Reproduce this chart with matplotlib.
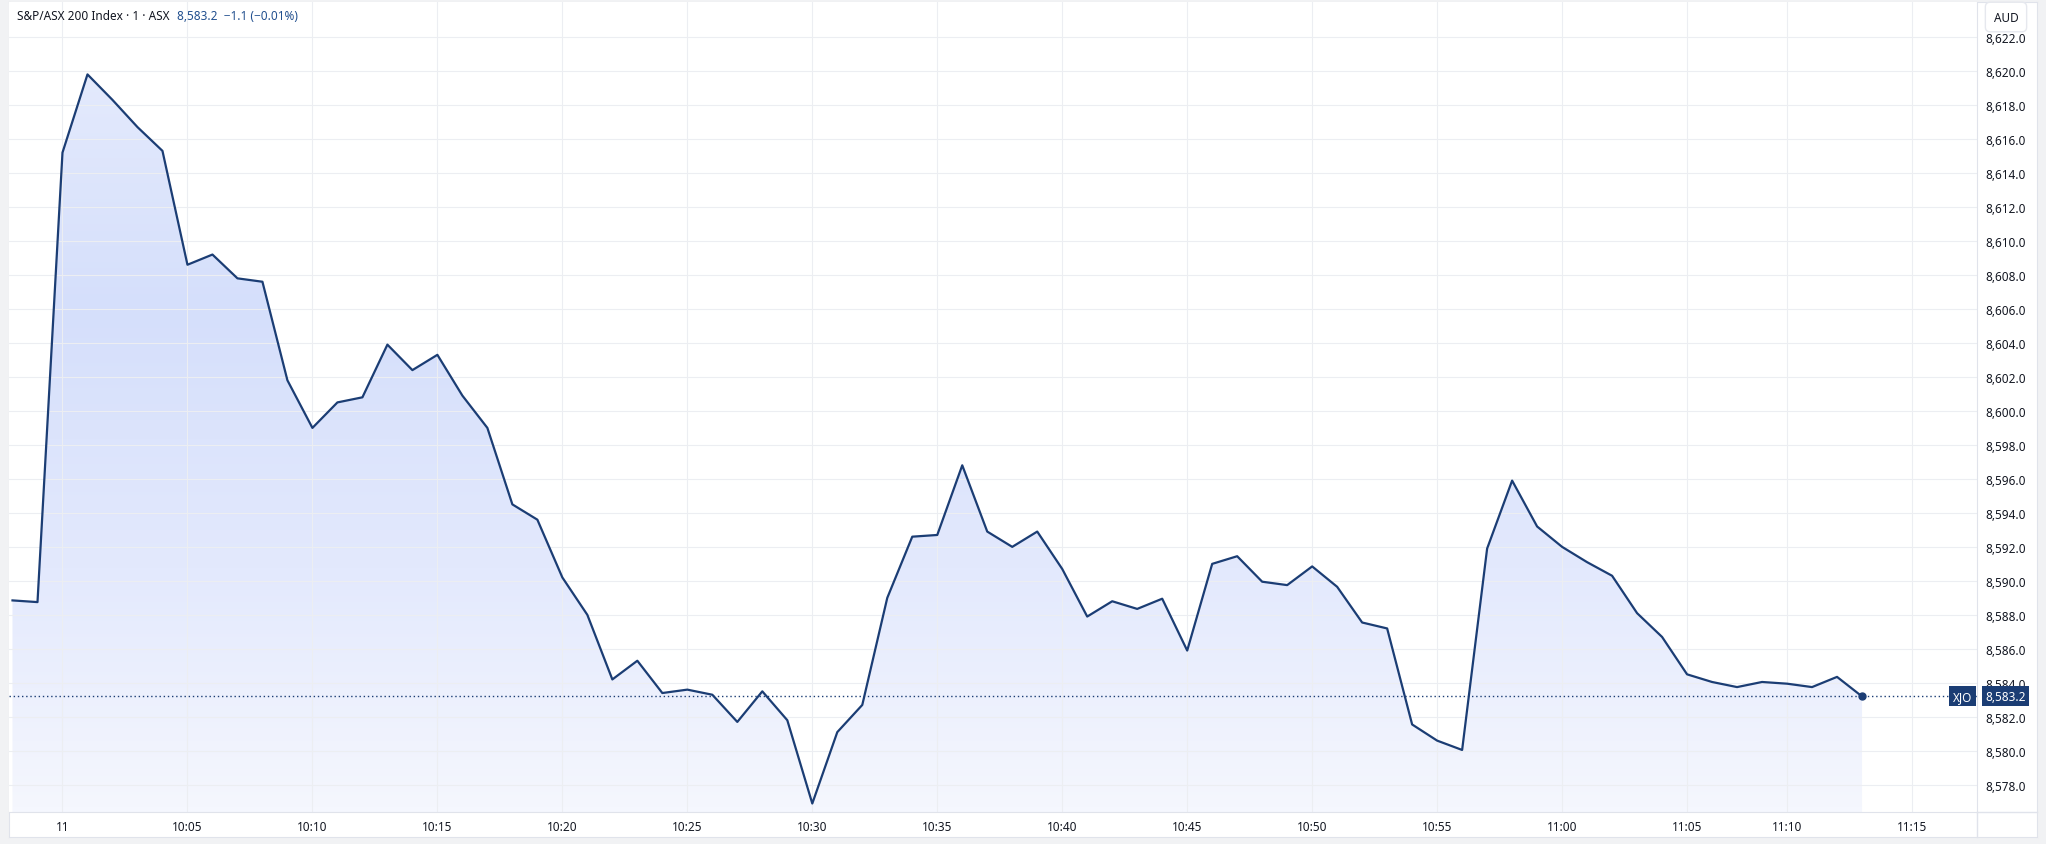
import numpy as np
import matplotlib.pyplot as plt
from matplotlib.colors import LinearSegmentedColormap
from matplotlib.lines import Line2D
import matplotlib.transforms as mtransforms

# one-minute closes, S&P/ASX 200 (one bar between 11:05 and 11:10 is missing)
times = ["09:58", "09:59",
         "10:00", "10:01", "10:02", "10:03", "10:04", "10:05", "10:06", "10:07", "10:08", "10:09",
         "10:10", "10:11", "10:12", "10:13", "10:14", "10:15", "10:16", "10:17", "10:18", "10:19",
         "10:20", "10:21", "10:22", "10:23", "10:24", "10:25", "10:26", "10:27", "10:28", "10:29",
         "10:30", "10:31", "10:32", "10:33", "10:34", "10:35", "10:36", "10:37", "10:38", "10:39",
         "10:40", "10:41", "10:42", "10:43", "10:44", "10:45", "10:46", "10:47", "10:48", "10:49",
         "10:50", "10:51", "10:52", "10:53", "10:54", "10:55", "10:56", "10:57", "10:58", "10:59",
         "11:00", "11:01", "11:02", "11:03", "11:04", "11:05", "11:06", "11:07", "11:09",
         "11:10", "11:11", "11:12", "11:13"]
closes = [8588.85, 8588.75,
          8615.2, 8619.8, 8618.3, 8616.7, 8615.3, 8608.6, 8609.2, 8607.8, 8607.6, 8601.8,
          8599.0, 8600.5, 8600.8, 8603.9, 8602.4, 8603.3, 8600.9, 8599.0, 8594.5, 8593.6,
          8590.2, 8588.0, 8584.2, 8585.3, 8583.4, 8583.6, 8583.3, 8581.7, 8583.5, 8581.8,
          8576.9, 8581.1, 8582.7, 8589.0, 8592.6, 8592.7, 8596.8, 8592.9, 8592.0, 8592.9,
          8590.7, 8587.9, 8588.8, 8588.35, 8588.95, 8585.9, 8591.0, 8591.45, 8589.95, 8589.75,
          8590.85, 8589.65, 8587.55, 8587.2, 8581.55, 8580.6, 8580.05, 8591.9, 8595.9, 8593.2,
          8592.0, 8591.1, 8590.3, 8588.1, 8586.7, 8584.5, 8584.05, 8583.75, 8584.05,
          8583.95, 8583.75, 8584.35, 8583.2]

tick_times = ["10:00", "10:05", "10:10", "10:15", "10:20", "10:25", "10:30", "10:35",
              "10:40", "10:45", "10:50", "10:55", "11:00", "11:05", "11:10", "11:15"]
tick_labels = ["11", "10:05", "10:10", "10:15", "10:20", "10:25", "10:30", "10:35",
               "10:40", "10:45", "10:50", "10:55", "11:00", "11:05", "11:10", "11:15"]
y_ticks = list(range(8578, 8624, 2))

title = "S&P/ASX 200 Index · 1 · ASX"
quote = "8,583.2  \u22121.1 (\u22120.01%)"
symbol = "XJO"
currency = "AUD"


def minutes(t):
    h, m = t.split(":")
    return int(h) * 60 + int(m)


x = np.arange(len(times))
pos = {t: i for i, t in enumerate(times)}
last_min = minutes(times[-1])
tick_pos = [pos[t] if t in pos else len(times) - 1 + minutes(t) - last_min for t in tick_times]

plt.rcParams['font.family'] = ['Noto Sans', 'DejaVu Sans']
navy = '#1b3d74'
text_col = '#131722'
grid_col = '#eceef2'
border_col = '#e0e3eb'
fs = 8.5

W, H = 2046, 845
fig = plt.figure(figsize=(W / 100, H / 100), dpi=100)
fig.patch.set_facecolor('#f1f2f4')


def px(l, t, r, b):
    return [l / W, 1 - b / H, (r - l) / W, (b - t) / H]


panel = fig.add_axes(px(9, 3, 2037, 838))
panel.set_xticks([])
panel.set_yticks([])
for s in panel.spines.values():
    s.set_color(border_col)

ax = fig.add_axes(px(9, 3, 1977, 813))
ymin, ymax = 8576.4, 8624.06
xmin, xmax = -0.14, 78.6

# gradient area under the line
cmap = LinearSegmentedColormap.from_list(
    'area', [(0.0, '#f5f7fe'), (0.3, '#e3e9fd'), (0.62, '#d5dffb'), (1.0, '#e8edfd')])
grad = np.linspace(0, 1, 256).reshape(-1, 1)
im = ax.imshow(grad, cmap=cmap, extent=[xmin, xmax, ymin, ymax], aspect='auto',
               origin='lower', zorder=0.2, interpolation='bilinear')
poly = ax.fill_between(x, closes, ymin, facecolor='none', edgecolor='none')
im.set_clip_path(poly.get_paths()[0], transform=ax.transData)

ax.plot(x, closes, color=navy, lw=1.6, zorder=3)
ax.plot(x[-1], closes[-1], 'o', ms=5, color=navy, zorder=4)
ax.axhline(closes[-1], color=navy, lw=1, ls=(0, (1, 2)), zorder=2)

ax.set_xlim(xmin, xmax)
ax.set_ylim(ymin, ymax)
ax.set_xticks(tick_pos)
ax.set_xticklabels(tick_labels)
ax.set_yticks(y_ticks)
ax.set_yticklabels([f"{v:,.1f}" for v in y_ticks])
ax.yaxis.tick_right()
ax.set_axisbelow(True)
ax.grid(color=grid_col, lw=0.8)
ax.tick_params(axis='y', length=0, pad=6, labelsize=fs, labelcolor=text_col)
ax.tick_params(axis='x', length=0, pad=5.5, labelsize=fs, labelcolor=text_col)
for s in ['top', 'left']:
    ax.spines[s].set_visible(False)
ax.spines['right'].set_color(border_col)
ax.spines['bottom'].set_color(border_col)

# separators of the price scale
fig.add_artist(Line2D([1977 / W, 2037 / W], [1 - 813 / H, 1 - 813 / H], color=border_col, lw=1))
fig.add_artist(Line2D([1977 / W, 1977 / W], [1 - 838 / H, 1 - 813 / H], color=border_col, lw=1))

# last price labels
blend = mtransforms.blended_transform_factory(ax.transAxes, ax.transData)
ax.annotate(symbol, xy=(1, closes[-1]), xycoords=blend, xytext=(-3.5, 0),
            textcoords='offset points', ha='right', va='center', fontsize=fs,
            color='white', zorder=6,
            bbox=dict(boxstyle='square,pad=0.3', fc=navy, ec='none'))
ax.annotate(f"{closes[-1]:,.1f}", xy=(1, closes[-1]), xycoords=blend, xytext=(6, 0),
            textcoords='offset points', ha='left', va='center', fontsize=fs,
            color='white', zorder=6, annotation_clip=False,
            bbox=dict(boxstyle='square,pad=0.3', fc=navy, ec='none'))

# header
t1 = ax.annotate(title, xy=(0, 1), xycoords='axes fraction', xytext=(6, -9.5),
                 textcoords='offset points', ha='left', va='center', fontsize=fs,
                 color=text_col, zorder=6)
ax.annotate(quote, xy=(1, 0.5), xycoords=t1, xytext=(5, 0), textcoords='offset points',
            ha='left', va='center', fontsize=fs, color='#22508f', zorder=6)

fig.text(2006 / W, 1 - 18 / H, currency, ha='center', va='center', fontsize=fs,
         color=text_col, zorder=10,
         bbox=dict(boxstyle='round,pad=0.7,rounding_size=0.4', fc='white', ec='#e6e8ee'))

fig.savefig('out.png', dpi=100, facecolor=fig.get_facecolor())
